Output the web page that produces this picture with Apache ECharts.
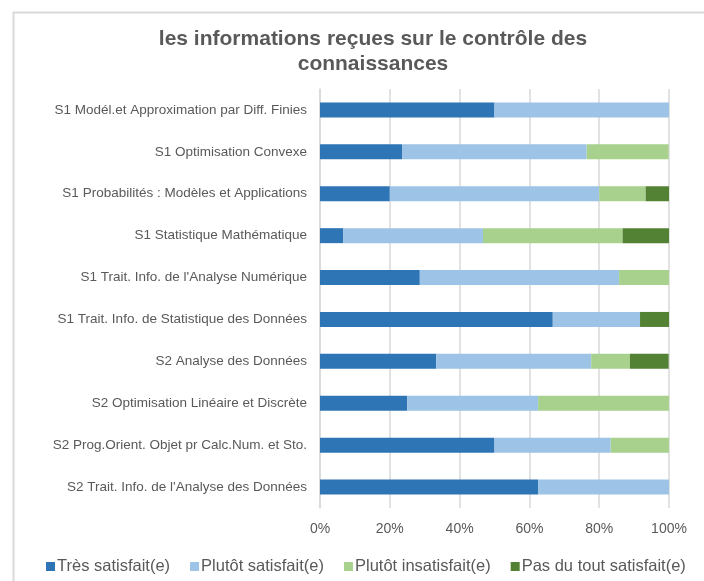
<!DOCTYPE html>
<html>
<head>
<meta charset="utf-8">
<script src="https://cdn.jsdelivr.net/npm/echarts@6/dist/echarts.min.js"></script>
<style>html,body{margin:0;padding:0;background:#fff}#c{width:704px;height:581px}</style>
</head>
<body>
<div id="c"></div>
<script>
const categories = [
  "S1 Modél.et Approximation par Diff. Finies",
  "S1 Optimisation Convexe",
  "S1 Probabilités : Modèles et Applications",
  "S1 Statistique Mathématique",
  "S1 Trait. Info. de l'Analyse Numérique",
  "S1 Trait. Info. de Statistique des Données",
  "S2 Analyse des Données",
  "S2 Optimisation Linéaire et Discrète",
  "S2 Prog.Orient. Objet pr Calc.Num. et Sto.",
  "S2 Trait. Info. de l'Analyse des Données"
];
const seriesNames = ["Très satisfait(e)", "Plutôt satisfait(e)", "Plutôt insatisfait(e)", "Pas du tout satisfait(e)"];
const tresSatisfait = [50, 23.5, 20, 6.7, 28.6, 66.7, 33.3, 25, 50, 62.5];
const plutotSatisfait = [50, 52.9, 60, 40, 57.1, 25, 44.4, 37.5, 33.3, 37.5];
const plutotInsatisfait = [0, 23.5, 13.3, 40, 14.3, 0, 11.1, 37.5, 16.7, 0];
const pasDuTout = [0, 0, 6.7, 13.3, 0, 8.3, 11.1, 0, 0, 0];
const tickLabels = ["0%", "20%", "40%", "60%", "80%", "100%"];
const colors = ["#2e75b6", "#9dc3e6", "#a9d18e", "#548235"];

const values = [tresSatisfait, plutotSatisfait, plutotInsatisfait, pasDuTout];
const FONT = "Liberation Sans";
const chart = echarts.init(document.getElementById('c'));
chart.setOption({
  animation: false,
  textStyle: { fontFamily: FONT },
  graphic: [{
    type: 'rect', left: 11, top: 10, shape: { width: 720, height: 600 },
    style: { fill: 'none', stroke: '#d9d9d9', lineWidth: 2 }, silent: true
  }],
  title: {
    text: "les informations reçues sur le contrôle des\nconnaissances",
    left: 368, textAlign: 'center', top: 22,
    textStyle: { fontFamily: FONT, fontSize: 21, fontWeight: 'bold', color: '#595959', lineHeight: 25 }
  },
  legend: {
    top: 553, left: 41,
    itemWidth: 9, itemHeight: 9, itemGap: 20, icon: 'rect',
    textStyle: { fontFamily: FONT, fontSize: 16.5, color: '#595959', padding: [0, 0, 0, -3] },
    data: seriesNames
  },
  grid: { left: 320, right: 35, top: 89, bottom: 73, containLabel: false },
  xAxis: {
    type: 'value', min: 0, max: 100, interval: 20,
    axisLabel: { formatter: v => tickLabels[Math.round(v / 20)], fontSize: 14, color: '#595959', margin: 14, fontFamily: FONT },
    axisLine: { show: false }, axisTick: { show: false },
    splitLine: { lineStyle: { color: '#d9d9d9', width: 1.5 } }
  },
  yAxis: {
    type: 'category', inverse: true, data: categories,
    axisLine: { show: true, lineStyle: { color: '#d9d9d9', width: 1.5 } },
    axisTick: { show: false },
    axisLabel: { fontSize: 13.5, color: '#595959', margin: 13, fontFamily: FONT }
  },
  series: seriesNames.map((n, i) => ({
    name: n, type: 'bar', stack: 'total', barWidth: 15,
    itemStyle: { color: colors[i] },
    data: values[i]
  }))
});
</script>
</body>
</html>
